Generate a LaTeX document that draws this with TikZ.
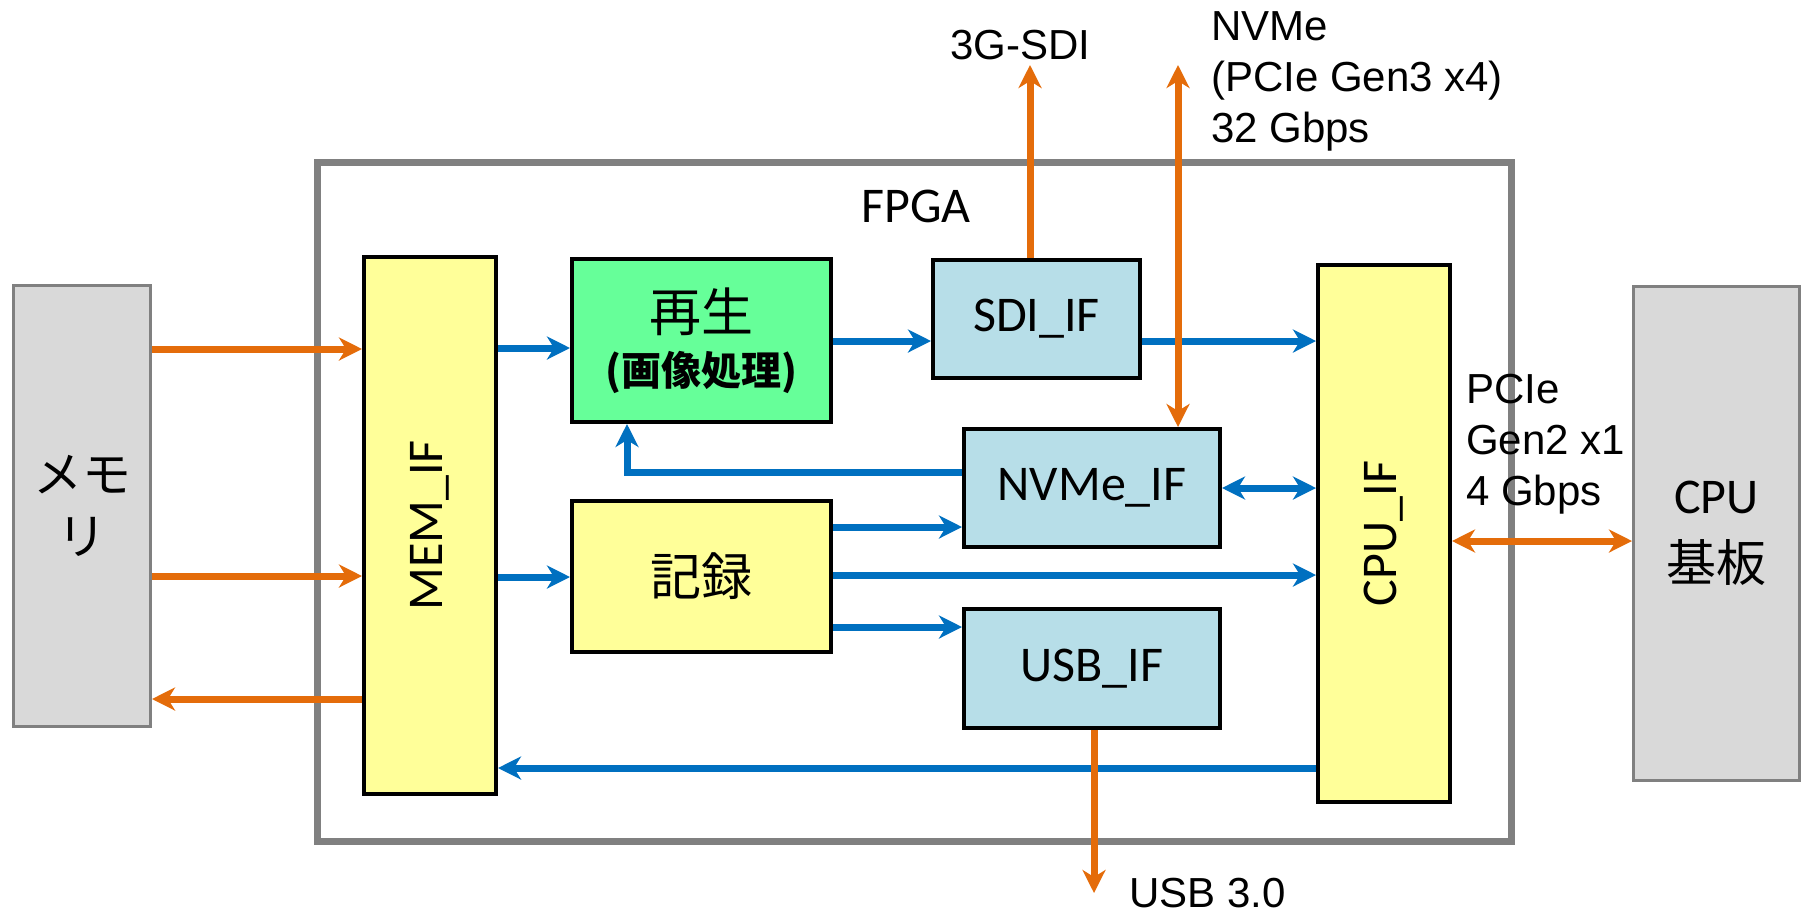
\documentclass[tikz,border=0pt]{standalone}
\usepackage{fontspec}
\setmainfont{Carlito}
\newfontfamily\arialf{Liberation Sans}
\newfontfamily\jpf{Noto Sans CJK JP}
\usetikzlibrary{arrows.meta}
\definecolor{ora}{HTML}{E46C0A}
\definecolor{blu}{HTML}{0070C0}
\definecolor{yel}{HTML}{FFFF99}
\definecolor{grn}{HTML}{66FF99}
\definecolor{lbl}{HTML}{B7DEE8}
\definecolor{gfill}{HTML}{D9D9D9}
\definecolor{gline}{HTML}{808080}
\begin{document}
\begin{tikzpicture}[x=1pt,y=-1pt,
  >={Stealth[length=23pt,width=23pt,inset=7pt]},
  blk/.style={draw=black, line width=4pt, inner sep=0pt, align=center, font=\fontsize{50}{60}\selectfont},
  yblk/.style={blk, fill=yel},
  bblk/.style={blk, fill=lbl},
  ext/.style={draw=gline, fill=gfill, line width=3pt, inner sep=0pt, align=center},
  oline/.style={draw=ora, line width=7pt},
  bline/.style={draw=blu, line width=7pt},
  lab/.style={font=\arialf\fontsize{42}{51}\selectfont, inner sep=0pt, align=left, anchor=base west},
  rlab/.style={rotate=90, inner sep=0pt, font=\fontsize{50}{60}\selectfont}
]
\useasboundingbox (0,0) rectangle (1804,914);
% FPGA frame
\node[draw=gline, line width=7pt, minimum width=1194pt, minimum height=679pt, inner sep=0pt] (fpga) at (914,501.5) {};
\node[font=\fontsize{50}{60}\selectfont, inner sep=0pt, anchor=base] (fpgalab) at (916,222) {FPGA};
% outside blocks
\node[ext, minimum width=137pt, minimum height=441pt, font=\jpf\fontsize{49}{62}\selectfont] (mem) at (82,506) {メモ\\リ};
\node[ext, minimum width=166pt, minimum height=494pt, font=\fontsize{50}{68}\selectfont] (cpu) at (1716.5,533.5) {CPU\\{\jpf 基板}};
% inner blocks
\node[yblk, minimum width=132pt, minimum height=537pt, label={[rlab]center:MEM\_IF}] (memif) at (430,525.5) {};
\node[yblk, minimum width=132pt, minimum height=537pt, label={[rlab]center:CPU\_IF}] (cpuif) at (1384,533.5) {};
\node[blk, fill=grn, minimum width=259pt, minimum height=163pt, font=\jpf\fontsize{52}{54}\selectfont] (play) at (701.5,340.5) {再生\\{\bfseries\fontsize{40}{54}\selectfont (画像処理)}};
\node[yblk, minimum width=259pt, minimum height=151pt, font=\jpf\fontsize{51}{60}\selectfont] (rec) at (701.5,576.5) {記録};
\node[bblk, minimum width=207pt, minimum height=118pt] (sdi) at (1036.5,319) {SDI\_IF};
\node[bblk, minimum width=256pt, minimum height=118pt] (nvme) at (1092,488) {NVMe\_IF};
\node[bblk, minimum width=256pt, minimum height=119pt] (usb) at (1092,668.5) {USB\_IF};
% free ends
\coordinate (sdiout) at (1030,65);
\coordinate (nvmeout) at (1178,65);
\coordinate (usbout) at (1094,893);
% blue connectors
\draw[bline,->] (memif.east |- 0,348) -- (play.west |- 0,348);
\draw[bline,->] (memif.east |- 0,577) -- (rec.west |- 0,577);
\draw[bline,->] (play.east |- 0,341) -- (sdi.west |- 0,341);
\draw[bline,->] (sdi.east |- 0,341) -- (cpuif.west |- 0,341);
\draw[bline,->] (nvme.west |- 0,472) -| (play.south -| 627,0);
\draw[bline,<->] (nvme.east |- 0,488) -- (cpuif.west |- 0,488);
\draw[bline,->] (rec.east |- 0,527) -- (nvme.west |- 0,527);
\draw[bline,->] (rec.east |- 0,575) -- (cpuif.west |- 0,575);
\draw[bline,->] (rec.east |- 0,627) -- (usb.west |- 0,627);
\draw[bline,->] (cpuif.west |- 0,768) -- (memif.east |- 0,768);
% orange connectors
\draw[oline,->] (mem.east |- 0,349) -- (memif.west |- 0,349);
\draw[oline,->] (mem.east |- 0,576) -- (memif.west |- 0,576);
\draw[oline,->] (memif.west |- 0,699) -- (mem.east |- 0,699);
\draw[oline,->] (sdi.north -| sdiout) -- (sdiout);
\draw[oline,<->] (nvme.north -| nvmeout) -- (nvmeout);
\draw[oline,->] (usb.south -| usbout) -- (usbout);
\draw[oline,<->] (cpuif.east |- 0,541) -- (cpu.west |- 0,541);
% labels
\node[lab] (sdilab) at (950,59) {3G-SDI};
\node[lab] (nvmelab) at (1211,142) {NVMe\\(PCIe Gen3 x4)\\32 Gbps};
\node[lab] (pcielab) at (1466,505) {PCIe\\Gen2 x1\\4 Gbps};
\node[lab] (usblab) at (1129,907) {USB 3.0};
\end{tikzpicture}
\end{document}
